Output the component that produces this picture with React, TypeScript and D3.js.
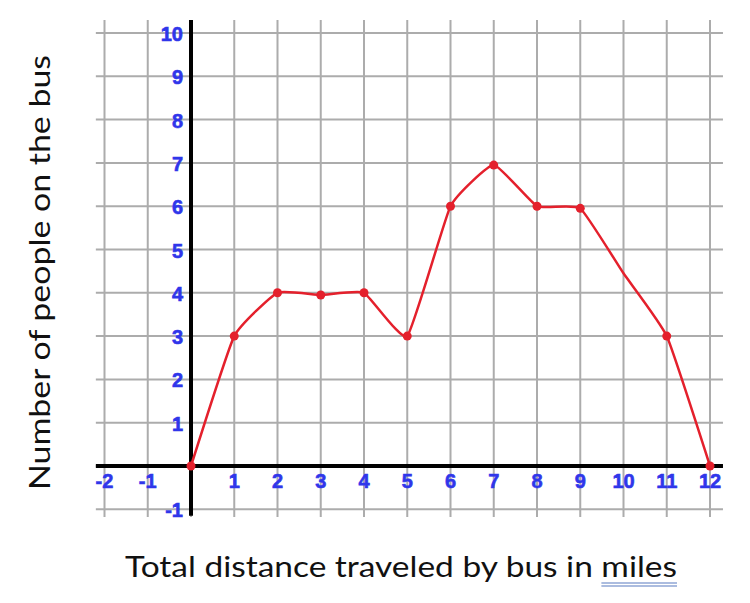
import { useRef, useEffect } from 'react';
import * as d3 from 'd3';

const distances = [0, 1, 2, 3, 4, 5, 6, 7, 8, 9, 10, 11, 12];
const people = [0, 3, 4, 3.95, 4, 3, 6, 6.95, 6, 5.95, 4.45, 3, 0];
const marked = [true, true, true, true, true, true, true, true, true, true, false, true, true];
const xTicks = [-2, -1, 1, 2, 3, 4, 5, 6, 7, 8, 9, 10, 11, 12];
const yTicks = [-1, 1, 2, 3, 4, 5, 6, 7, 8, 9, 10];
const gridX = d3.range(-2, 13);
const gridY = d3.range(-1, 11);

const W = 750;
const H = 603;
const blue = '#2f36ea';
const red = '#e4202c';

export default function App() {
  const svgRef = useRef<SVGSVGElement>(null);

  useEffect(() => {
    document.body.style.margin = '0';
    if (!svgRef.current) return;
    const svg = d3.select(svgRef.current);
    svg.selectAll('*').remove();

    const x = d3.scaleLinear().domain([0, 12]).range([191, 710]);
    const y = d3.scaleLinear().domain([0, 10]).range([466, 33]);

    svg.append('rect').attr('width', W).attr('height', H).attr('fill', '#fff');

    // grid
    svg.append('g')
      .selectAll('line')
      .data(gridX)
      .join('line')
      .attr('x1', d => x(d)).attr('x2', d => x(d))
      .attr('y1', y(10.3)).attr('y2', y(-1.18))
      .attr('stroke', '#acacac').attr('stroke-width', 2);

    svg.append('g')
      .selectAll('line')
      .data(gridY)
      .join('line')
      .attr('x1', x(-2.2)).attr('x2', x(12.3))
      .attr('y1', d => y(d)).attr('y2', d => y(d))
      .attr('stroke', '#acacac').attr('stroke-width', 2);

    // axes
    svg.append('line')
      .attr('x1', x(-2.2)).attr('x2', x(12.3))
      .attr('y1', y(0)).attr('y2', y(0))
      .attr('stroke', '#000').attr('stroke-width', 4);
    svg.append('line')
      .attr('x1', x(0)).attr('x2', x(0))
      .attr('y1', y(10.3)).attr('y2', y(-1.15))
      .attr('stroke', '#000').attr('stroke-width', 4);

    // tick labels
    const tickStyle = (sel: d3.Selection<any, number, any, any>) => sel
      .attr('font-family', 'Liberation Sans, Arial, sans-serif')
      .attr('font-weight', 'bold')
      .attr('font-size', 20)
      .attr('fill', blue)
      .attr('stroke', blue)
      .attr('stroke-width', 0.6)
      .text(d => String(d));

    svg.append('g')
      .selectAll('text')
      .data(xTicks)
      .join('text')
      .attr('x', d => x(d))
      .attr('y', y(0) + 22)
      .attr('text-anchor', 'middle')
      .call(tickStyle);

    svg.append('g')
      .selectAll('text')
      .data(yTicks)
      .join('text')
      .attr('x', x(0) - 8)
      .attr('y', d => y(d) + 8)
      .attr('text-anchor', 'end')
      .call(tickStyle);

    // data line
    const pts = distances.map((d, i) => [d, people[i]] as [number, number]);
    const line = d3.line<[number, number]>()
      .x(d => x(d[0]))
      .y(d => y(d[1]))
      .curve(d3.curveCardinal.tension(0.6));

    svg.append('path')
      .datum(pts)
      .attr('fill', 'none')
      .attr('stroke', red)
      .attr('stroke-width', 2.5)
      .attr('stroke-linejoin', 'round')
      .attr('d', line);

    svg.append('g')
      .selectAll('circle')
      .data(pts.filter((_, i) => marked[i]))
      .join('circle')
      .attr('cx', d => x(d[0]))
      .attr('cy', d => y(d[1]))
      .attr('r', 4.5)
      .attr('fill', red);

    // axis titles
    const xStart = 125;
    const xLen = 552;
    const xt = svg.append('text')
      .attr('x', xStart)
      .attr('y', 577)
      .attr('textLength', xLen)
      .attr('lengthAdjust', 'spacingAndGlyphs')
      .attr('font-family', 'Lato, Open Sans, sans-serif')
      .attr('font-size', 28)
      .attr('fill', '#111');
    xt.append('tspan').text('Total distance traveled by bus in ');
    const miles = xt.append('tspan').text('miles');

    const mNode = miles.node() as SVGTSpanElement;
    const startX = mNode.getStartPositionOfChar(0).x;
    const endX = xStart + xLen;
    [583, 586].forEach(yy => {
      svg.append('line')
        .attr('x1', startX).attr('x2', endX)
        .attr('y1', yy).attr('y2', yy)
        .attr('stroke', '#8fa6d4').attr('stroke-width', 1.3);
    });

    svg.append('text')
      .attr('transform', 'translate(50,490) rotate(-90)')
      .attr('textLength', 435)
      .attr('lengthAdjust', 'spacingAndGlyphs')
      .attr('font-family', 'Lato, Open Sans, sans-serif')
      .attr('font-size', 28)
      .attr('fill', '#111')
      .text('Number of people on the bus');
  }, []);

  return <svg ref={svgRef} width={W} height={H} style={{ display: 'block' }} />;
}
